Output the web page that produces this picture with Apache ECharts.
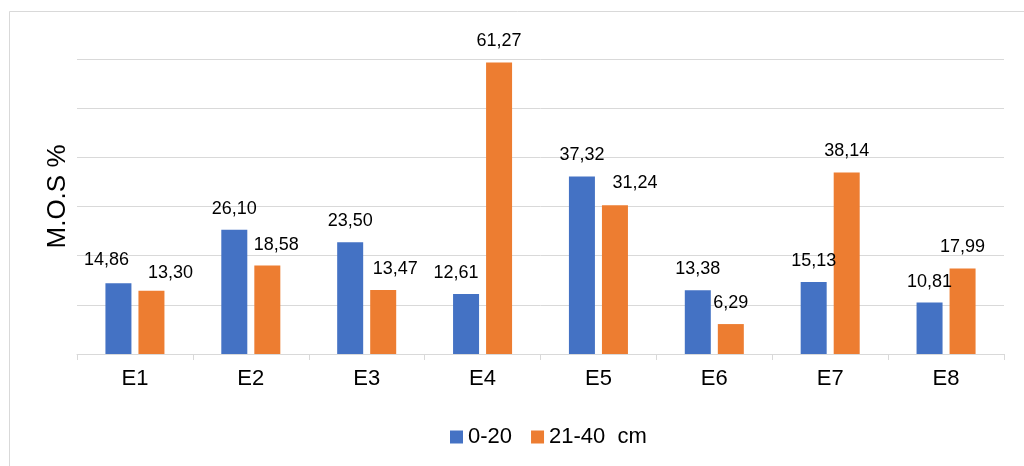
<!DOCTYPE html>
<html>
<head>
<meta charset="utf-8">
<script src="https://cdn.jsdelivr.net/npm/echarts@6/dist/echarts.min.js"></script>
<style>
html,body{margin:0;padding:0;background:#fff;}
#c{width:1024px;height:466px;}
</style>
</head>
<body>
<div id="c"></div>
<script>
var categories = ['E1','E2','E3','E4','E5','E6','E7','E8'];
var depth0to20 = [14.86, 26.10, 23.50, 12.61, 37.32, 13.38, 15.13, 10.81];
var depth21to40 = [13.30, 18.58, 13.47, 61.27, 31.24, 6.29, 38.14, 17.99];
var seriesNames = ['0-20', '21-40  cm'];

var FONT = 'Liberation Sans, Arial, sans-serif';
var chart = echarts.init(document.getElementById('c'), null, {renderer:'canvas'});
function fmt(p){ return p.value.toFixed(2).replace('.', ','); }
// hand-placed label nudges, as in the reference (label styling only)
var nudge0 = {0:[-12,-2], 3:[-10,0]};
var nudge1 = {0:[19,3], 1:[9,0], 2:[12,0], 4:[20,-1]};
function items(vals, nudge){
  return vals.map(function(v,i){
    var it = {value:v};
    if (nudge[i]) it.label = {offset:nudge[i]};
    return it;
  });
}
var labelCfg = {show:true, position:'top', distance:12, color:'#000', fontSize:18, fontFamily:FONT, formatter:fmt};
chart.setOption({
  animation:false,
  backgroundColor:'#fff',
  graphic:[{type:'rect', shape:{x:9.5,y:11.5,width:1100,height:600}, style:{fill:'none', stroke:'#d9d9d9', lineWidth:1}, silent:true}],
  grid:{left:77, right:20, top:59, bottom:112},
  legend:{
    data:seriesNames, left:445, top:421, itemWidth:13, itemHeight:13, itemGap:19, icon:'rect',
    textStyle:{fontSize:22, fontFamily:FONT, color:'#000'}
  },
  xAxis:{
    type:'category', data:categories,
    axisLine:{lineStyle:{color:'#d9d9d9', width:1}},
    axisTick:{show:true, length:6, lineStyle:{color:'#d9d9d9'}},
    axisLabel:{fontSize:22, fontFamily:FONT, color:'#000', margin:14}
  },
  yAxis:{
    type:'value', min:0, max:62, interval:62/6,
    name:'M.O.S %', nameLocation:'middle', nameGap:6,
    nameTextStyle:{fontSize:26, fontFamily:FONT, color:'#000', padding:[0,0,0,20]},
    axisLine:{show:false}, axisTick:{show:false}, axisLabel:{show:false},
    splitLine:{lineStyle:{color:'#d9d9d9', width:1}}
  },
  series:[
    {name:seriesNames[0], type:'bar', data:items(depth0to20, nudge0), itemStyle:{color:'#4472C4'}, barWidth:26, barGap:'27%', label:labelCfg},
    {name:seriesNames[1], type:'bar', data:items(depth21to40, nudge1), itemStyle:{color:'#ED7D31'}, barWidth:26, barGap:'27%', label:labelCfg}
  ]
});
</script>
</body>
</html>
